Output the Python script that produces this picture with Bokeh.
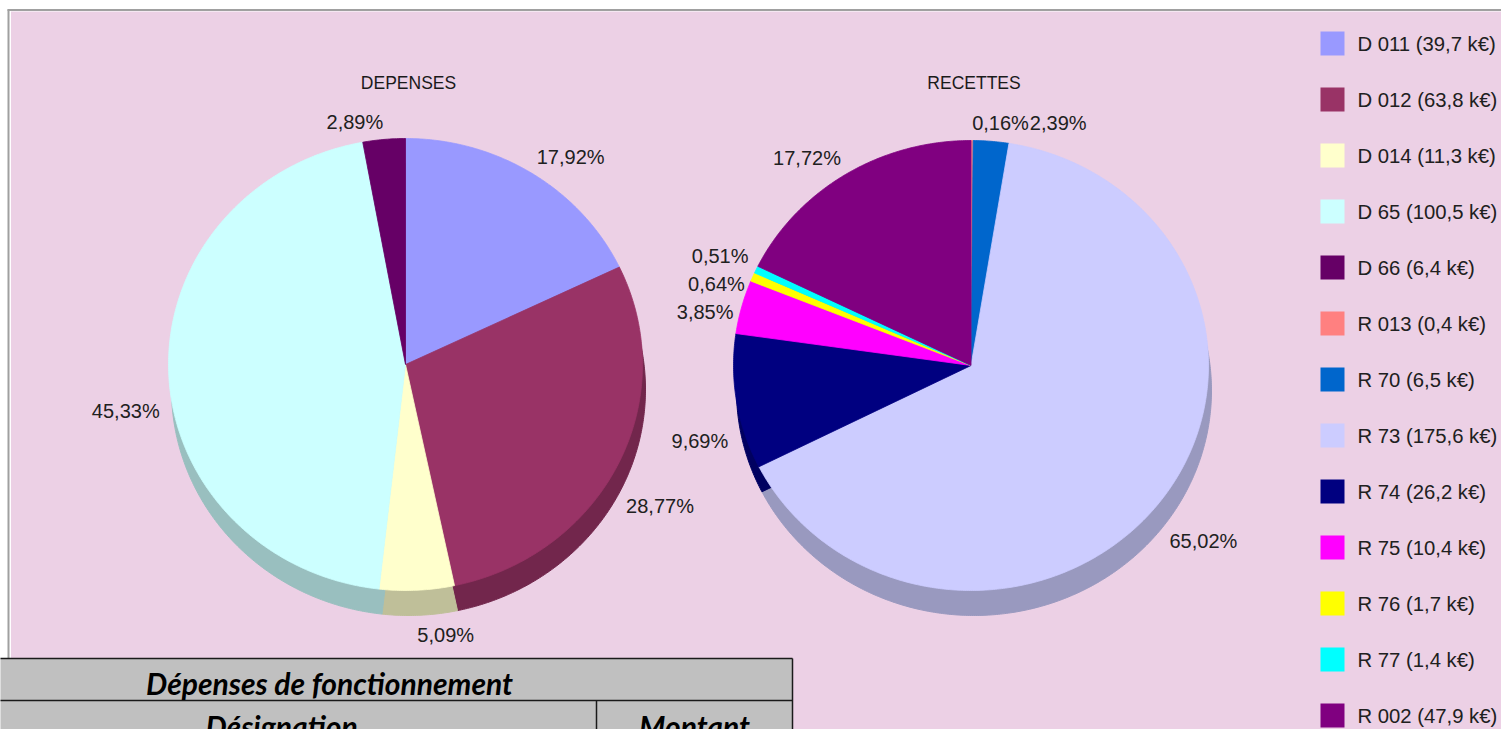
import math
import numpy as np
from bokeh.plotting import figure
from bokeh.models import Range1d, ColumnDataSource
from bokeh.core.properties import value
from bokeh.embed import file_html
from bokeh.resources import INLINE

# ---------------- data ----------------
dep_title = "DEPENSES"
dep_codes = ["D 011", "D 012", "D 014", "D 65", "D 66"]
dep_values = [39.7, 63.8, 11.3, 100.5, 6.4]
dep_pct = ["17,92%", "28,77%", "5,09%", "45,33%", "2,89%"]
dep_colors = ["#9999FF", "#993366", "#FFFFCC", "#CCFFFF", "#660066"]

rec_title = "RECETTES"
rec_codes = ["R 013", "R 70", "R 73", "R 74", "R 75", "R 76", "R 77", "R 002"]
rec_values = [0.4, 6.5, 175.6, 26.2, 10.4, 1.7, 1.4, 47.9]
rec_pct = ["0,16%", "2,39%", "65,02%", "9,69%", "3,85%", "0,64%", "0,51%", "17,72%"]
rec_colors = ["#FF8080", "#0066CC", "#CCCCFF", "#000080", "#FF00FF", "#FFFF00", "#00FFFF", "#800080"]

table_title = "Dépenses de fonctionnement"
table_headers = ["Désignation", "Montant"]

# ---------------- layout helpers ----------------
W, H = 1501, 729


def Y(py):
    return H - py


FONT = value("Liberation Sans")
LBL_FS = 20
CHAR_W = {"0": .556, "1": .556, "2": .556, "3": .556, "4": .556, "5": .556,
          "6": .556, "7": .556, "8": .556, "9": .556, ",": .278, "%": .889}


def text_w(s, fs):
    return sum(CHAR_W.get(ch, .556) for ch in s) * fs


def darker(hexc, f=0.75):
    r, g, b = int(hexc[1:3], 16), int(hexc[3:5], 16), int(hexc[5:7], 16)
    return "#%02x%02x%02x" % (int(r * f), int(g * f), int(b * f))


p = figure(width=W, height=H, x_range=Range1d(0, W), y_range=Range1d(0, H),
           output_backend="svg", toolbar_location=None,
           x_axis_location=None, y_axis_location=None, min_border=0)
p.grid.visible = False
p.outline_line_color = None
p.background_fill_color = "white"
p.border_fill_color = "white"

# chart area background + border
p.quad(left=[10.5], right=[W + 5], top=[Y(11)], bottom=[Y(740)], fill_color="#ECD0E5", line_color=None)
p.segment(x0=[7], y0=[Y(9.5)], x1=[W + 5], y1=[Y(9.5)], line_color="#A0A0A0", line_width=2)
p.segment(x0=[8], y0=[Y(9)], x1=[8], y1=[Y(658)], line_color="#A0A0A0", line_width=2)


def draw_pie(cx, cy, rx, ry, values, colors, pct, title, depth=25, sdx=3):
    total = float(sum(values))
    fr = np.cumsum([0.0] + list(values)) / total
    xs_f, ys_f, xs_s, ys_s = [], [], [], []
    for i in range(len(values)):
        a0, a1 = fr[i] * 2 * math.pi, fr[i + 1] * 2 * math.pi
        n = max(3, int((a1 - a0) / (math.pi / 360)))
        t = np.linspace(a0, a1, n)
        px = cx + rx * np.sin(t)
        py = cy - ry * np.cos(t)
        xs_f.append([cx] + list(px))
        ys_f.append([Y(cy)] + list(Y(py)))
        xs_s.append([cx + sdx] + list(px + sdx))
        ys_s.append([Y(cy + depth)] + list(Y(py + depth)))
    sh = [darker(c) for c in colors]
    p.patches(xs=xs_s, ys=ys_s, fill_color=sh, line_color=sh, line_width=1)
    p.patches(xs=xs_f, ys=ys_f, fill_color=colors, line_color=colors, line_width=0.8)

    # labels
    RXL, RYL, DL, LH = 246, 233, 28, 20
    boxes = []
    cum = 0.0
    for v, lab in zip(values, pct):
        mid = (cum + v / 2) / total * 2 * math.pi
        cum += v
        s, c = math.sin(mid), math.cos(mid)
        w = text_w(lab, LBL_FS)
        xt = cx + RXL * s
        if c >= 0:
            top = cy - RYL * c - LH
        else:
            top = cy - RYL * c + DL
        left = xt if s >= 0 else xt - w
        boxes.append({"l": left, "t": top, "w": w, "h": LH, "s": s, "c": c, "txt": lab})
    order = sorted(range(len(boxes)), key=lambda i: (round(boxes[i]["t"]), boxes[i]["l"]))
    placed = []

    def ov(a, b):
        return (a["l"] < b["l"] + b["w"] and b["l"] < a["l"] + a["w"] and
                a["t"] < b["t"] + b["h"] and b["t"] < a["t"] + a["h"])

    for i in order:
        b = boxes[i]
        for _ in range(30):
            hit = [q for q in placed if ov(b, q)]
            if not hit:
                break
            q = hit[0]
            if abs(b["s"]) < 0.3 and b["c"] > 0:
                if b["s"] >= 0:
                    b["l"] = q["l"] + q["w"] + 1
                else:
                    b["l"] = q["l"] - 1 - b["w"]
            else:
                b["t"] = q["t"] + q["h"] + 8
        placed.append(b)
    src = ColumnDataSource(dict(x=[b["l"] for b in boxes], y=[Y(b["t"] + b["h"] / 2) for b in boxes],
                                t=[b["txt"] for b in boxes]))
    p.text(x="x", y="y", text="t", source=src, text_font=FONT, text_font_size="%dpx" % LBL_FS,
           text_align="left", text_baseline="middle", text_color="#202020")
    p.text(x=[cx + 3], y=[Y(82)], text=[title], text_font=FONT, text_font_size="17.5px",
           text_align="center", text_baseline="middle", text_color="#1a1a1a")


draw_pie(405, 364, 237, 226, dep_values, dep_colors, dep_pct, dep_title)
draw_pie(970.5, 365, 237.5, 225, rec_values, rec_colors, rec_pct, rec_title)

# legend
leg_codes = dep_codes + rec_codes
leg_vals = dep_values + rec_values
leg_cols = dep_colors + rec_colors
leg_txt = ["%s (%s k€)" % (c, ("%.1f" % v).replace(".", ",")) for c, v in zip(leg_codes, leg_vals)]
n = len(leg_txt)
yc = [43 + 56 * i for i in range(n)]
p.quad(left=[1320] * n, right=[1344] * n, top=[Y(y - 12) for y in yc], bottom=[Y(y + 12) for y in yc],
       fill_color=leg_cols, line_color=None)
p.text(x=[1357] * n, y=[Y(y) for y in yc], text=leg_txt, text_font=FONT, text_font_size="20.3px",
       text_align="left", text_baseline="middle", text_color="#202020")

# table (partially visible)
p.quad(left=[-5], right=[792], top=[Y(658)], bottom=[Y(760)], fill_color="#C0C0C0", line_color=None)
p.segment(x0=[-5, -5, 596, 792], y0=[Y(658), Y(700), Y(700), Y(658)],
          x1=[792, 792, 596, 792], y1=[Y(658), Y(700), Y(760), Y(760)],
          line_color="#1a1a1a", line_width=1.5)
p.text(x=[329], y=[Y(682)], text=[table_title], text_font=value("Lato"), text_font_style="bold italic",
       text_font_size="30px", text_align="center", text_baseline="middle", text_color="black")
p.text(x=[281, 694], y=[Y(725), Y(725)], text=table_headers, text_font=value("Lato"),
       text_font_style="bold italic", text_font_size="30px", text_align="center",
       text_baseline="middle", text_color="black")

open("out.html", "w").write(file_html(p, INLINE))
